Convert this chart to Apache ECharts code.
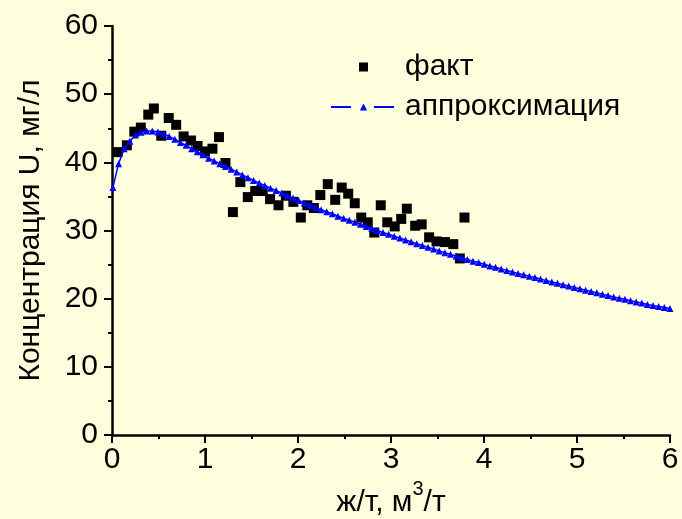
<!DOCTYPE html>
<html>
<head>
<meta charset="utf-8">
<script src="https://cdn.jsdelivr.net/npm/echarts@6/dist/echarts.min.js"></script>
<style>
  html, body { margin: 0; padding: 0; background: #ffffdd; }
  #chart { width: 682px; height: 519px; }
</style>
</head>
<body>
<div id="chart"></div>
<script>
// факт: measured points
const factX = [0.06, 0.16, 0.24, 0.31, 0.39, 0.45, 0.53, 0.61, 0.69, 0.77,
  0.85, 0.92, 1.00, 1.08, 1.15, 1.22, 1.30, 1.38, 1.46, 1.54,
  1.62, 1.70, 1.79, 1.87, 1.95, 2.03, 2.10, 2.17, 2.24, 2.32,
  2.40, 2.47, 2.54, 2.61, 2.68, 2.75, 2.82, 2.89, 2.96, 3.04,
  3.11, 3.17, 3.26, 3.33, 3.41, 3.49, 3.58, 3.67, 3.74, 3.79]
const factY = [41.5, 42.5, 44.5, 45.1, 47.0, 47.9, 43.9, 46.5, 45.5, 43.8,
  43.2, 42.4, 41.6, 42.0, 43.7, 39.9, 32.7, 37.1, 34.9, 35.8,
  35.8, 34.6, 33.7, 35.1, 34.2, 31.9, 33.7, 33.3, 35.2, 36.8,
  34.5, 36.3, 35.4, 34.0, 31.9, 31.2, 29.7, 33.7, 31.2, 30.6,
  31.7, 33.2, 30.7, 30.9, 29.0, 28.4, 28.3, 28.0, 25.9, 31.9]

// аппроксимация: curve sampled from x = 0.01 with step 0.0605
const fitStart = 0.01
const fitStep = 0.0605
const fitY = [36.3, 39.8, 42.0, 43.1, 44.0, 44.4, 44.6, 44.6, 44.45, 44.2,
  43.8, 43.4, 42.9, 42.5, 42.0, 41.55, 41.1, 40.6, 40.2, 39.8,
  39.4, 39.0, 38.6, 38.15, 37.75, 37.35, 36.95, 36.6, 36.2, 35.85,
  35.5, 35.1, 34.75, 34.4, 34.05, 33.7, 33.4, 33.05, 32.75, 32.45,
  32.1, 31.8, 31.5, 31.2, 30.9, 30.6, 30.3, 30.0, 29.7, 29.45,
  29.15, 28.9, 28.6, 28.35, 28.05, 27.8, 27.55, 27.3, 27.0, 26.75,
  26.5, 26.25, 26.0, 25.75, 25.5, 25.3, 25.05, 24.8, 24.6, 24.35,
  24.15, 23.9, 23.7, 23.5, 23.3, 23.1, 22.9, 22.65, 22.45, 22.25,
  22.05, 21.85, 21.65, 21.45, 21.25, 21.05, 20.85, 20.65, 20.45, 20.25,
  20.05, 19.9, 19.7, 19.5, 19.35, 19.15, 19.0, 18.85, 18.7, 18.55]

const font = '"Liberation Sans", Arial, sans-serif'

const factData = factX.map((x, i) => [x, factY[i]])
const fitData = fitY.map((y, i) => [+(fitStart + i * fitStep).toFixed(4), y])

const axisCommon = {
  axisLine: { show: true, lineStyle: { color: '#000', width: 2.5 } },
  axisTick: { show: true, inside: false, length: 8, lineStyle: { color: '#000', width: 2 } },
  minorTick: { show: true, splitNumber: 2, length: 4, lineStyle: { color: '#000', width: 2 } },
  splitLine: { show: false },
  axisLabel: { color: '#000', fontSize: 30, fontFamily: font }
}

const chart = echarts.init(document.getElementById('chart'))
chart.setOption({
  backgroundColor: '#ffffdd',
  animation: false,
  grid: { left: 112, right: 12, top: 26, bottom: 84, outerBoundsMode: 'none', containLabel: false },
  legend: {
    orient: 'vertical',
    left: 325,
    top: 47,
    itemWidth: 65,
    itemHeight: 9,
    itemGap: 10,
    symbolKeepAspect: true,
    textStyle: { color: '#000', fontSize: 30, fontFamily: font, lineHeight: 30, padding: [0, 0, 0, 4] },
    data: [
      { name: 'факт', icon: 'path://M0,0L10,0L10,10L0,10Z', itemStyle: { color: '#000', opacity: 1 } },
      { name: 'аппроксимация', lineStyle: { type: [20, 23], width: 2 } }
    ]
  },
  xAxis: Object.assign({}, axisCommon, {
    type: 'value',
    min: 0,
    max: 6,
    interval: 1,
    name: 'ж/т, м{sup|3}/т',
    nameLocation: 'middle',
    nameGap: 43,
    nameTextStyle: {
      color: '#000',
      fontFamily: font,
      rich: {
        sup: { fontSize: 20, lineHeight: 20, verticalAlign: 'top', fontFamily: font, color: '#000' }
      },
      fontSize: 30,
      lineHeight: 46
    },
    axisLabel: { color: '#000', fontSize: 30, fontFamily: font, margin: 10 }
  }),
  yAxis: Object.assign({}, axisCommon, {
    type: 'value',
    min: 0,
    max: 60,
    interval: 10,
    name: 'Концентрация U, мг/л',
    nameLocation: 'middle',
    nameGap: 66,
    nameTextStyle: { color: '#000', fontSize: 30, fontFamily: font },
    axisLabel: { color: '#000', fontSize: 30, fontFamily: font, margin: 14 }
  }),
  series: [
    {
      name: 'факт',
      type: 'scatter',
      data: factData,
      symbol: 'rect',
      symbolSize: 10,
      itemStyle: { color: '#000', opacity: 1 },
      z: 2
    },
    {
      name: 'аппроксимация',
      type: 'line',
      data: fitData,
      showAllSymbol: true,
      symbol: 'triangle',
      symbolSize: 7,
      lineStyle: { color: '#0000ff', width: 1.5 },
      itemStyle: { color: '#0000ff' },
      z: 3
    }
  ]
})
</script>
</body>
</html>
